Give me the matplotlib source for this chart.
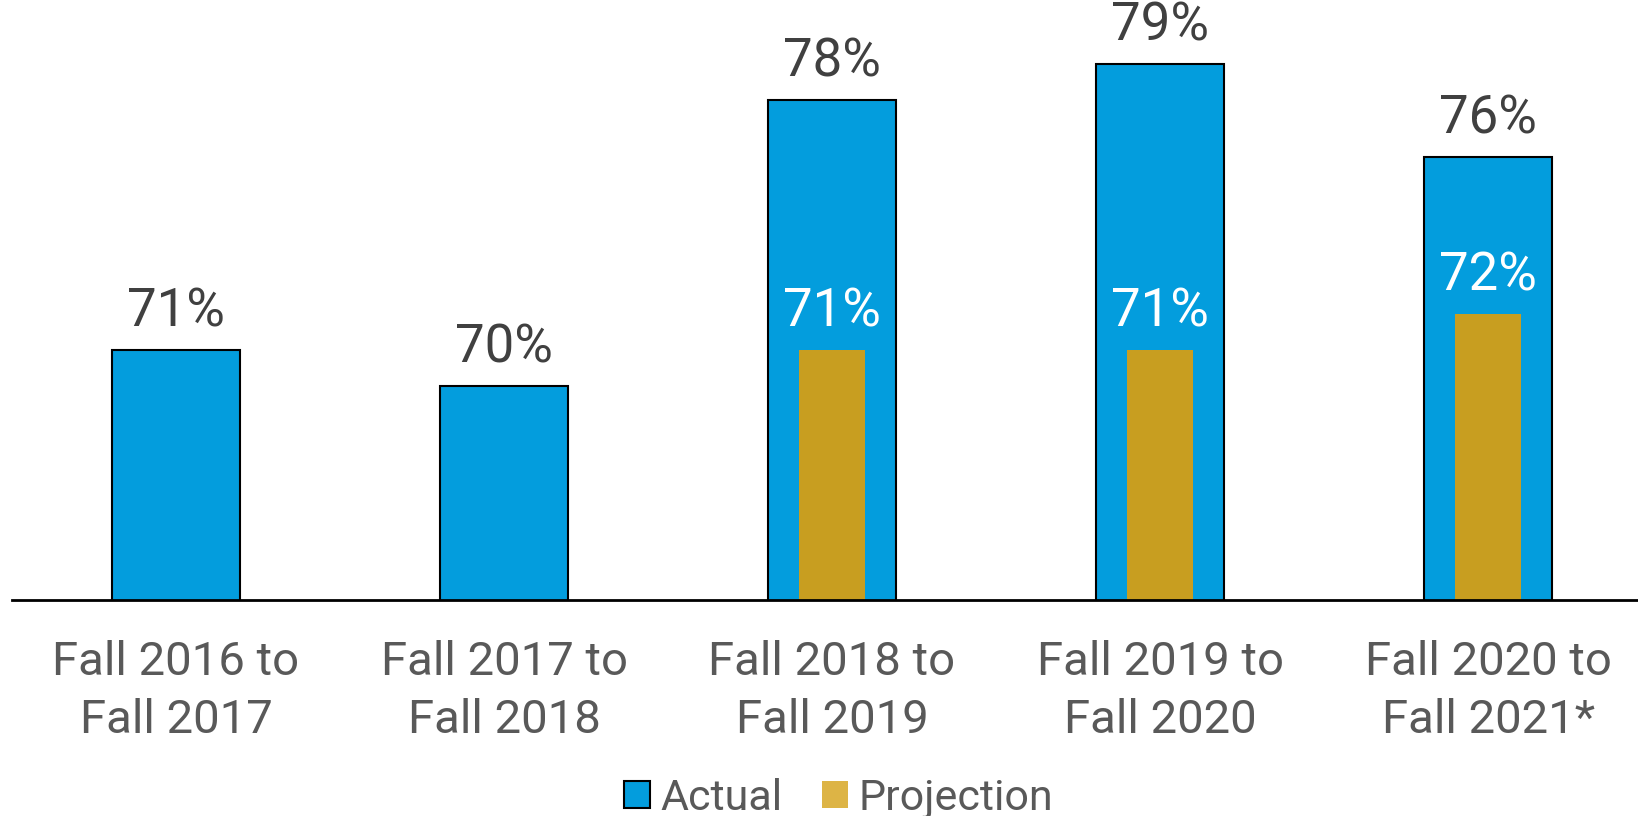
import matplotlib.pyplot as plt
from matplotlib.patches import Patch

categories = ["Fall 2016 to\nFall 2017", "Fall 2017 to\nFall 2018", "Fall 2018 to\nFall 2019",
              "Fall 2019 to\nFall 2020", "Fall 2020 to\nFall 2021*"]
actual = [71, 70, 78, 79, 76.4]
actual_labels = ["71%", "70%", "78%", "79%", "76%"]
proj_idx = [2, 3, 4]
projection = [71, 71, 72]
projection_labels = ["71%", "71%", "72%"]

blue = '#039DDD'
gold = '#C89E20'

plt.rcParams['font.family'] = ['Roboto', 'DejaVu Sans']

fig = plt.figure(figsize=(16.38, 8.16), dpi=100)
ax = fig.add_axes([12 / 1638, 216 / 816, 1 - 12 / 1638, 600 / 816])

x = list(range(len(categories)))
ax.bar(x, actual, width=0.39, color=blue, edgecolor='black', linewidth=1.5)
ax.bar(proj_idx, projection, width=0.2, color=gold, linewidth=0)

for i, v, lab in zip(x, actual, actual_labels):
    ax.annotate(lab, (i, v), xytext=(0, 17), textcoords='offset points',
                ha='center', va='baseline', fontsize=38, color='#404040')
for i, v, lab in zip(proj_idx, projection, projection_labels):
    ax.annotate(lab, (i, v), xytext=(0, 17), textcoords='offset points',
                ha='center', va='baseline', fontsize=38, color='white')

ax.set_ylim(64, 80.8)
ax.set_xlim(-0.5, 4.457)
ax.set_xticks(x)
ax.set_xticklabels(categories, fontsize=34, color='#595959', linespacing=1.4)
ax.tick_params(axis='x', length=0, pad=29)
ax.set_yticks([])
for s in ['top', 'right', 'left']:
    ax.spines[s].set_visible(False)
ax.spines['bottom'].set_linewidth(2)

handles = [Patch(facecolor=blue, edgecolor='black', linewidth=1.5, label='Actual'),
           Patch(facecolor='#DDB445', edgecolor='none', label='Projection')]
fig.legend(handles=handles, loc='center', bbox_to_anchor=(0.512, 0.022), ncol=2, frameon=False,
           fontsize=31, handlelength=0.6, handleheight=0.6, handletextpad=0.25,
           columnspacing=0.9, labelcolor='#595959', borderpad=0)

fig.savefig('out.png', dpi=100)
